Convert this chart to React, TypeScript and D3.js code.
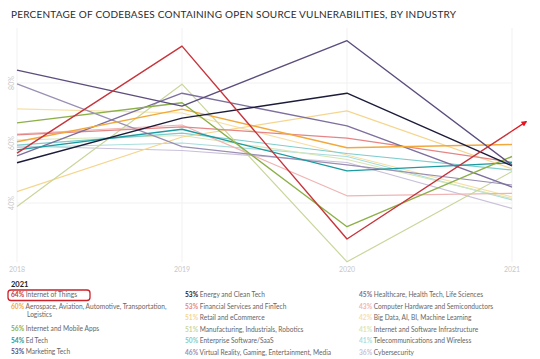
import React from "react";
import * as d3 from "d3";

const years = ["2018", "2019", "2020", "2021"];
const yTicks = [80, 60, 40];
const gridValues = [80, 40];

const industries = [
  "Internet of Things",
  "Aerospace, Aviation, Automotive, Transportation,|Logistics",
  "Internet and Mobile Apps",
  "Ed Tech",
  "Marketing Tech",
  "Energy and Clean Tech",
  "Financial Services and FinTech",
  "Retail and eCommerce",
  "Manufacturing, Industrials, Robotics",
  "Enterprise Software/SaaS",
  "Virtual Reality, Gaming, Entertainment, Media",
  "Healthcare, Health Tech, Life Sciences",
  "Computer Hardware and Semiconductors",
  "Big Data, AI, BI, Machine Learning",
  "Internet and Software Infrastructure",
  "Telecommunications and Wireless",
  "Cybersecurity",
];
const labels2021 = ["64%", "60%", "56%", "54%", "53%", "53%", "53%", "51%", "51%", "50%", "46%", "45%", "43%", "42%", "41%", "41%", "36%"];
const colors = [
  "#c8343c", "#f2a93b", "#8cb048", "#1b9aa0", "#5c4d7d", "#1c1c3a",
  "#e58585", "#f5d68f", "#c9d69c", "#7fcccc", "#9a8fb3", "#7d6f9e",
  "#f0b4b4", "#f7e0a6", "#d7e6b5", "#a8dede", "#c9c1da",
];

const iot = [56.6, 92.3, 28, 64];
const aerospace = [60.4, 71.3, 58.4, 59.5];
const mobileApps = [66.7, 73.4, 32.1, 55.5];
const edTech = [57.7, 64.6, 50.7, 53.4];
const marketingTech = [84.3, 72.3, 94.1, 52.6];
const energy = [53.4, 68.3, 76.6, 52.4];
const financial = [62.7, 65.4, 61.6, 53.6];
const retail = [43.8, 62.0, 70.7, 51.4];
const manufacturing = [38.8, 79.6, 20.4, 50.5];
const enterprise = [59.3, 63.3, 56.5, 51.0];
const virtualReality = [79.7, 58.8, 52.7, 46.0];
const healthcare = [55.7, 76.6, 65.7, 45.3];
const hardware = [63.0, 66.0, 42.4, 43.2];
const bigData = [71.4, 70.0, 56.0, 42.0];
const infrastructure = [61.0, 62.5, 54.5, 41.5];
const telecom = [58.5, 60.0, 55.5, 41.0];
const cybersecurity = [59.0, 57.5, 53.5, 38.2];

const seriesValues = [
  iot, aerospace, mobileApps, edTech, marketingTech, energy, financial, retail,
  manufacturing, enterprise, virtualReality, healthcare, hardware, bigData,
  infrastructure, telecom, cybersecurity,
];

// draw light lines first, strong ones on top
const drawOrder = [16, 15, 14, 13, 12, 9, 7, 8, 10, 6, 11, 3, 1, 2, 5, 4, 0];
const strong = new Set([0, 1, 2, 3, 4, 5, 11]);

const W = 540;
const H = 359;

export default function App() {
  const x = d3.scalePoint<string>().domain(years).range([17, 512]);
  const y = d3.scaleLinear().domain([40, 80]).range([203, 83]);
  const line = d3
    .line<number>()
    .x((_, i) => x(years[i]) as number)
    .y((d) => y(d));

  // arrow extension of IoT line
  const p3 = [x(years[2]) as number, y(iot[2])];
  const p4 = [x(years[3]) as number, y(iot[3])];
  const dx = p4[0] - p3[0];
  const dy = p4[1] - p3[1];
  const len = Math.hypot(dx, dy);
  const ext = 17;
  const tip = [p4[0] + (dx / len) * ext, p4[1] + (dy / len) * ext];

  const colX = [11, 185, 359];
  const rowY = [295, 306.5, 318, 329.5, 341, 352.5];
  const legendItems: { i: number; x: number; y: number }[] = [];
  legendItems.push({ i: 0, x: colX[0], y: rowY[0] });
  legendItems.push({ i: 1, x: colX[0], y: rowY[1] });
  legendItems.push({ i: 2, x: colX[0], y: rowY[3] - 1 });
  legendItems.push({ i: 3, x: colX[0], y: rowY[4] - 0.5 });
  legendItems.push({ i: 4, x: colX[0], y: rowY[5] - 0.5 });
  for (let k = 0; k < 6; k++) legendItems.push({ i: 5 + k, x: colX[1], y: rowY[k] });
  for (let k = 0; k < 6; k++) legendItems.push({ i: 11 + k, x: colX[2], y: rowY[k] });

  return (
    <svg width={W} height={H} style={{ position: "absolute", left: 0, top: 0, background: "#fff" }}>
      <defs>
        <marker id="arrow" viewBox="0 0 10 10" refX="8" refY="5" markerWidth="4" markerHeight="4" orient="auto">
          <path d="M0,0 L10,5 L0,10 z" fill="#e3141e" />
        </marker>
      </defs>
      <text
        x={11}
        y={18}
        fontFamily="Lato, 'Open Sans', sans-serif"
        fontSize={10}
        fill="#2b2b2b"
        textLength={445}
        lengthAdjust="spacing"
      >
        PERCENTAGE OF CODEBASES CONTAINING OPEN SOURCE VULNERABILITIES, BY INDUSTRY
      </text>

      {years.map((yr) => (
        <line key={"v" + yr} x1={x(yr)} x2={x(yr)} y1={28} y2={262} stroke="#f1f1f1" strokeWidth={1} />
      ))}
      {gridValues.map((v) => (
        <line key={"h" + v} x1={17} x2={512} y1={y(v)} y2={y(v)} stroke="#f1f1f1" strokeWidth={1} />
      ))}
      {yTicks.map((v) => (
        <text
          key={"yt" + v}
          transform={`translate(13.5,${y(v)}) rotate(-90)`}
          textAnchor="middle"
          fontFamily="Lato, sans-serif"
          fontSize={7}
          fill="#c8c8c8"
        >
          {v}%
        </text>
      ))}
      {years.map((yr) => (
        <text
          key={"xt" + yr}
          x={x(yr)}
          y={272}
          textAnchor="middle"
          fontFamily="Lato, sans-serif"
          fontSize={7}
          fill="#c8c8c8"
        >
          {yr}
        </text>
      ))}

      {drawOrder.map((i) => (
        <path
          key={"l" + i}
          d={line(seriesValues[i]) || ""}
          fill="none"
          stroke={colors[i]}
          strokeWidth={strong.has(i) ? 1.4 : 1.2}
          strokeLinejoin="round"
        />
      ))}
      <line x1={p4[0]} y1={p4[1]} x2={tip[0]} y2={tip[1]} stroke="#e3141e" strokeWidth={1.4} markerEnd="url(#arrow)" />

      <text x={11} y={287} fontFamily="Lato, sans-serif" fontSize={7.5} fontWeight={700} fill="#222">
        2021
      </text>
      <rect x={8} y={290} width={82} height={10.5} rx={3} ry={3} fill="none" stroke="#d0202a" strokeWidth={1.3} />
      {legendItems.map(({ i, x: lx, y: ly }) => {
        const parts = industries[i].split("|");
        return (
          <g key={"lg" + i} fontFamily="Lato, sans-serif" fontSize={6.6}>
            <text x={lx} y={ly + 2.3} fill="#666">
              <tspan fill={colors[i]} fontWeight={700}>{labels2021[i]}</tspan>
              <tspan> {parts[0]}</tspan>
            </text>
            {parts[1] && (
              <text x={lx + 16} y={ly + 2.3 + 8} fill="#666">
                {parts[1]}
              </text>
            )}
          </g>
        );
      })}
    </svg>
  );
}
